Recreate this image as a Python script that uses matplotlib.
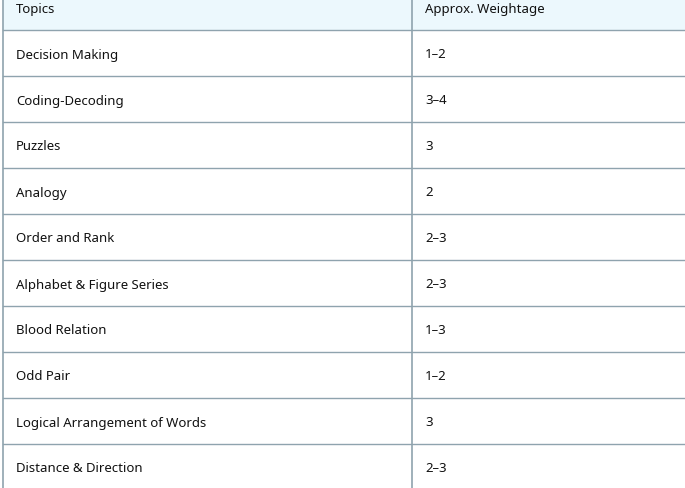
import matplotlib
matplotlib.use("Agg")
import matplotlib.pyplot as plt
from matplotlib.patches import Rectangle

headers = ["Topics", "Approx. Weightage"]
topics = ["Decision Making", "Coding-Decoding", "Puzzles", "Analogy", "Order and Rank",
          "Alphabet & Figure Series", "Blood Relation", "Odd Pair",
          "Logical Arrangement of Words", "Distance & Direction"]
weightage = ["1–2", "3–4", "3", "2", "2–3", "2–3", "1–3", "1–2", "3", "2–3"]

W, H = 685, 489
fig = plt.figure(figsize=(W/100, H/100), dpi=100)
ax = fig.add_axes([0, 0, 1, 1])
ax.set_xlim(0, W); ax.set_ylim(H, 0); ax.axis("off")

line_c = "#8fa3ae"
fs = 9.5
fam = ["Noto Sans", "DejaVu Sans"]
header_h, row_h = 31, 46
col_x = 412
ax.add_patch(Rectangle((3, -5), W, header_h + 5, facecolor="#ecf8fd", edgecolor="none"))
ax.text(16, 9, headers[0], fontsize=fs, family=fam, va="center", color="#111")
ax.text(425, 9, headers[1], fontsize=fs, family=fam, va="center", color="#111")
for i, (t, w) in enumerate(zip(topics, weightage)):
    y0 = header_h + i*row_h
    ax.plot([3, W], [y0, y0], color=line_c, lw=1)
    ax.text(16, y0 + 24, t, fontsize=fs, family=fam, va="center", color="#111")
    ax.text(425, y0 + 24, w, fontsize=fs, family=fam, va="center", color="#111")
ax.plot([3.5, 3.5], [0, H], color=line_c, lw=1.2)
ax.plot([col_x, col_x], [0, H], color=line_c, lw=1.2)
fig.savefig("out.png", dpi=100)
